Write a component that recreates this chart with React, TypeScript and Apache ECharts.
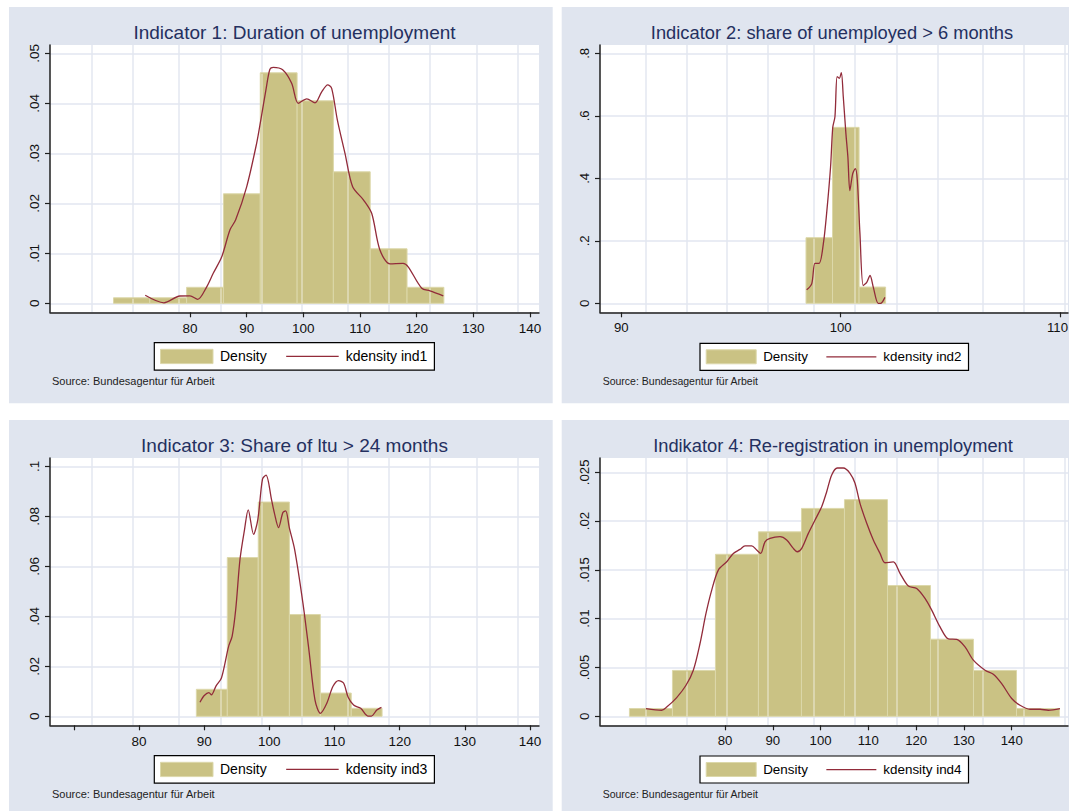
import React, { useEffect, useRef } from 'react';
import * as echarts from 'echarts';

const FONT = '"Liberation Sans", Arial, Helvetica, sans-serif';
const BAR = '#cac284';
const BAR_EDGE = '#dcd8aa';
const CURVE = '#922b3a';
const AXIS = '#1f1f1f';
const GRIDLINE = '#e2e6f0';
const PANEL_BG = '#e0e5ef';
const TITLE_COLOR = '#243060';
const SEAM = '#dfe3ee';
const SOURCE_TEXT = 'Source: Bundesagentur für Arbeit';
const LEGEND_HIST = 'Density';
const LINE_ICON = 'path://M0,0H400V10H0Z';

// ---------- Panel 1 ----------
const TITLE1 = 'Indicator 1: Duration of unemployment';
const EDGES1 = [66.5, 72.9, 79.4, 85.9, 92.4, 98.9, 105.3, 111.8, 118.3, 124.8];
const DENS1 = [0.0011, 0.0011, 0.0032, 0.0219, 0.0461, 0.0405, 0.0263, 0.0109, 0.0032];
const KDX1 = [72.1, 75.4, 78.2, 80.0, 81.35, 82.9, 84.1, 85.6, 87.06, 88.06, 90.0, 91.76, 92.5, 93.4, 94.1, 94.7, 96.35, 97.94, 99.1, 100.6, 102.06, 103.24, 104.3, 105.0, 106.0, 107.35, 108.7, 110.6, 112.06, 113.5, 115.3, 117.6, 118.5, 120.9, 122.35, 124.7];
const KDY1 = [0.0016, 0.0001, 0.00146, 0.0015, 0.0008, 0.0032, 0.006, 0.0093, 0.0147, 0.0167, 0.0233, 0.032, 0.0367, 0.0427, 0.0468, 0.0472, 0.0467, 0.044, 0.040, 0.0409, 0.0401, 0.0423, 0.0437, 0.043, 0.0367, 0.030, 0.0233, 0.0207, 0.018, 0.0107, 0.0079, 0.008, 0.0073, 0.003, 0.0025, 0.0015];
const XTICKS1 = [80, 90, 100, 110, 120, 130, 140];
const XLABELS1 = [80, 90, 100, 110, 120, 130, 140];
const YTICKS1 = [0, 0.01, 0.02, 0.03, 0.04, 0.05];

// ---------- Panel 2 ----------
const TITLE2 = 'Indicator 2: share of unemployed > 6 months';
const EDGES2 = [98.42, 99.63, 100.84, 102.05];
const DENS2 = [0.21, 0.563, 0.052];
const KDX2 = [98.45, 98.68, 98.83, 99.02, 99.21, 99.36, 99.54, 99.64, 99.74, 99.84, 99.94, 100.03, 100.12, 100.24, 100.33, 100.42, 100.55, 100.67, 100.76, 100.88, 101.03, 101.19, 101.34, 101.49, 101.71, 101.82, 102.02];
const KDY2 = [0.043, 0.062, 0.128, 0.128, 0.19, 0.287, 0.436, 0.563, 0.597, 0.725, 0.72, 0.738, 0.661, 0.543, 0.468, 0.361, 0.415, 0.431, 0.394, 0.223, 0.057, 0.067, 0.089, 0.051, 0.0, 0.0, 0.019];
const XTICKS2 = [90, 100, 110];
const XLABELS2 = [90, 100, 110];
const YTICKS2 = [0, 0.2, 0.4, 0.6, 0.8];

// ---------- Panel 3 ----------
const TITLE3 = 'Indicator 3: Share of ltu > 24 months';
const EDGES3 = [88.8, 93.55, 98.3, 103.08, 107.83, 112.57, 117.3];
const DENS3 = [0.0108, 0.0635, 0.0857, 0.0407, 0.0093, 0.0032];
const KDX3 = [89.36, 90.02, 90.73, 91.11, 91.83, 92.65, 93.75, 94.29, 94.84, 95.5, 96.2, 96.76, 97.58, 98.24, 98.95, 99.5, 100.32, 100.76, 101.42, 102.08, 102.51, 103.06, 103.88, 105.15, 106.07, 107.01, 107.84, 108.82, 109.75, 110.62, 111.39, 112.1, 112.93, 114.02, 115.12, 115.66, 116.49, 117.2];
const KDY3 = [0.0056, 0.0083, 0.0095, 0.0086, 0.0122, 0.0153, 0.028, 0.032, 0.0427, 0.0628, 0.0748, 0.0826, 0.0728, 0.0788, 0.0949, 0.0965, 0.0869, 0.0815, 0.0755, 0.0815, 0.0822, 0.0755, 0.0668, 0.0454, 0.0266, 0.0065, 0.0012, 0.0052, 0.0119, 0.0143, 0.0133, 0.0076, 0.0045, 0.0032, 0.0001, 0.0001, 0.0025, 0.0036];
const XTICKS3 = [70, 80, 90, 100, 110, 120, 130, 140];
const XLABELS3 = [80, 90, 100, 110, 120, 130, 140];
const YTICKS3 = [0, 0.02, 0.04, 0.06, 0.08, 0.1];

// ---------- Panel 4 ----------
const TITLE4 = 'Indikator 4: Re-registration in unemployment';
const EDGES4 = [60, 69, 78, 87, 96, 105, 114, 123, 132, 141, 150];
const DENS4 = [0.0008, 0.0047, 0.0166, 0.0189, 0.0213, 0.0222, 0.0134, 0.0079, 0.0047, 0.0008];
const KDX4 = [63.47, 66.75, 67.8, 69.89, 71.84, 73.37, 74.77, 76.02, 77.22, 78.6, 80.36, 81.74, 83.14, 84.19, 85.59, 86.63, 87.47, 88.37, 89.42, 91.51, 92.91, 94.3, 95.13, 96.05, 97.44, 98.84, 100.23, 101.28, 102.33, 103.5, 104.76, 106.16, 107.21, 108.25, 109.66, 111.04, 112.44, 113.49, 115.23, 116.63, 118.37, 120.12, 121.86, 123.26, 125.0, 126.74, 128.49, 130.23, 131.97, 134.42, 136.15, 137.9, 140.0, 141.74, 143.83, 145.93, 147.67, 150.1];
const KDY4 = [0.00079, 0.00062, 0.00095, 0.00192, 0.00318, 0.00472, 0.00746, 0.01054, 0.01293, 0.01498, 0.01583, 0.01669, 0.0171, 0.01747, 0.01747, 0.01703, 0.01669, 0.01788, 0.01823, 0.0184, 0.01806, 0.0172, 0.01686, 0.0172, 0.01874, 0.02011, 0.02147, 0.02301, 0.02473, 0.02544, 0.02544, 0.0249, 0.02387, 0.02182, 0.01977, 0.01806, 0.01669, 0.01573, 0.01583, 0.01464, 0.01334, 0.0131, 0.01208, 0.01088, 0.00916, 0.00793, 0.00787, 0.00711, 0.00575, 0.00472, 0.00431, 0.00335, 0.00182, 0.00113, 0.00072, 0.00072, 0.00062, 0.00079];
const XTICKS4 = [80, 90, 100, 110, 120, 130, 140];
const XLABELS4 = [80, 90, 100, 110, 120, 130, 140];
const YTICKS4 = [0, 0.005, 0.01, 0.015, 0.02, 0.025];

// Rendering seams visible in the reference picture (page x positions)
const SEAM_X = [92, 133, 179, 221, 262, 302, 348, 389, 430, 477, 518, 646, 687, 727, 768, 814, 855, 897, 938, 983, 1024, 1065];

type Panel = {
  title: string; titleX: number; titleY: number; titleSize: number;
  bg: [number, number, number, number];
  grid: { left: number; top: number; width: number; height: number };
  xMin: number; xMax: number; yMin: number; yMax: number;
  xTicks: number[]; xLabels: number[]; yTicks: number[];
  edges: number[]; dens: number[]; kdx: number[]; kdy: number[];
  kdName: string;
  legend: { left: number; top: number; iw: number; ih: number; gap: number; font: number; pad: number[] };
  labelSize: number;
  edgeLabel?: number;
  source: { x: number; y: number; size: number };
};

const PANELS: Panel[] = [
  {
    title: TITLE1, titleX: 294.5, titleY: 32.7, titleSize: 19,
    bg: [9, 7, 543.7, 396.3],
    grid: { left: 50, top: 45, width: 489, height: 267.3 },
    xMin: 55.294, xMax: 141.588, yMin: -0.0018, yMax: 0.05166,
    xTicks: XTICKS1, xLabels: XLABELS1, yTicks: YTICKS1,
    edges: EDGES1, dens: DENS1, kdx: KDX1, kdy: KDY1, kdName: 'kdensity ind1',
    legend: { left: 154.3, top: 342.7, iw: 52.5, ih: 14.3, gap: 19.5, font: 14, pad: [6.1, 7, 6.1, 5.7] },
    labelSize: 13.5,
    source: { x: 52, y: 380.5, size: 11 },
  },
  {
    title: TITLE2, titleX: 832, titleY: 32.7, titleSize: 18.3,
    bg: [561.7, 7, 520, 396.3],
    grid: { left: 600, top: 45, width: 468, height: 267.3 },
    xMin: 89.029, xMax: 110.365, yMin: -0.0288, yMax: 0.82656,
    xTicks: XTICKS2, xLabels: XLABELS2, yTicks: YTICKS2,
    edges: EDGES2, dens: DENS2, kdx: KDX2, kdy: KDY2, kdName: 'kdensity ind2',
    legend: { left: 700, top: 343.3, iw: 50, ih: 14, gap: 18.5, font: 13.4, pad: [6, 7, 6, 5.7] },
    labelSize: 13.2,
    edgeLabel: 110,
    source: { x: 602.7, y: 380.5, size: 10.5 },
  },
  {
    title: TITLE3, titleX: 294.5, titleY: 445.7, titleSize: 19,
    bg: [9, 420, 543.7, 391],
    grid: { left: 50, top: 458, width: 489, height: 267.3 },
    xMin: 66.343, xMax: 141.381, yMin: -0.0036, yMax: 0.10332,
    xTicks: XTICKS3, xLabels: XLABELS3, yTicks: YTICKS3,
    edges: EDGES3, dens: DENS3, kdx: KDX3, kdy: KDY3, kdName: 'kdensity ind3',
    legend: { left: 154.3, top: 755.7, iw: 52.5, ih: 14.3, gap: 19.5, font: 14, pad: [6.1, 7, 6.1, 5.7] },
    labelSize: 13.5,
    source: { x: 52, y: 793.5, size: 11 },
  },
  {
    title: TITLE4, titleX: 833, titleY: 445.7, titleSize: 18.3,
    bg: [561.7, 420, 520, 391],
    grid: { left: 600, top: 458, width: 468, height: 267.3 },
    xMin: 53.84, xMax: 151.78, yMin: -0.000922, yMax: 0.026465,
    xTicks: XTICKS4, xLabels: XLABELS4, yTicks: YTICKS4,
    edges: EDGES4, dens: DENS4, kdx: KDX4, kdy: KDY4, kdName: 'kdensity ind4',
    legend: { left: 700, top: 756, iw: 50, ih: 14, gap: 18.5, font: 13.4, pad: [6, 7, 6, 5.7] },
    labelSize: 13.2,
    source: { x: 602.7, y: 793.5, size: 10.5 },
  },
];

const fmtY = (v: number) => (v === 0 ? '0' : String(v).replace(/^0\./, '.'));

function renderHist(_params: any, api: any) {
  const x0 = api.value(0);
  const x1 = api.value(1);
  const h = api.value(2);
  const p0 = api.coord([x0, h]);
  const p1 = api.coord([x1, 0]);
  const children: any[] = [
    {
      type: 'rect',
      shape: { x: p0[0], y: p0[1], width: p1[0] - p0[0], height: p1[1] - p0[1] },
      style: { fill: BAR, stroke: BAR_EDGE, lineWidth: 1 },
    },
  ];
  SEAM_X.forEach((sx) => {
    if (sx > p0[0] + 1.5 && sx < p1[0] - 1.5) {
      children.push({
        type: 'line',
        shape: { x1: sx, y1: p0[1] + 1, x2: sx, y2: p1[1] },
        style: { stroke: 'rgba(255,255,255,0.7)', lineWidth: 1 },
      });
    }
  });
  return { type: 'group', children };
}

function buildOption() {
  const graphics: any[] = [];
  PANELS.forEach((p) => {
    graphics.push({
      type: 'rect', z: -10, z2: 0, silent: true,
      shape: { x: p.bg[0], y: p.bg[1], width: p.bg[2], height: p.bg[3] },
      style: { fill: PANEL_BG },
    });
    graphics.push({
      type: 'rect', z: -10, z2: 1, silent: true,
      shape: { x: p.grid.left, y: p.grid.top, width: p.grid.width, height: p.grid.height },
      style: { fill: '#ffffff' },
    });
    SEAM_X.forEach((sx) => {
      if (sx > p.grid.left + 2 && sx < p.grid.left + p.grid.width - 1) {
        graphics.push({
          type: 'line', z: -10, z2: 2, silent: true,
          shape: { x1: sx, y1: p.grid.top, x2: sx, y2: p.grid.top + p.grid.height },
          style: { stroke: SEAM, lineWidth: 1.3 },
        });
      }
    });
    graphics.push({
      type: 'text', silent: true,
      style: {
        text: SOURCE_TEXT, x: p.source.x, y: p.source.y,
        fill: '#222222', fontSize: p.source.size, fontFamily: FONT,
        verticalAlign: 'middle', align: 'left',
      },
    });
  });

  const title = PANELS.map((p) => ({
    text: p.title,
    left: p.titleX,
    top: p.titleY,
    textAlign: 'center',
    textVerticalAlign: 'middle',
    padding: 0,
    textStyle: { fontSize: p.titleSize, fontWeight: 'normal', color: TITLE_COLOR, fontFamily: FONT },
  }));

  const grid = PANELS.map((p) => ({
    left: p.grid.left, top: p.grid.top, width: p.grid.width, height: p.grid.height,
    show: false, containLabel: false, outerBoundsMode: 'none',
  }));

  const xAxis = PANELS.map((p, i) => ({
    type: 'value', gridIndex: i, min: p.xMin, max: p.xMax,
    axisLine: { show: true, onZero: false, lineStyle: { color: AXIS, width: 1.5 } },
    axisTick: { show: true, length: 5, inside: false, customValues: p.xTicks, lineStyle: { color: AXIS, width: 1.2 } },
    axisLabel: {
      show: true, customValues: p.xLabels, margin: 9, fontSize: p.labelSize, color: '#111111', fontFamily: FONT,
      formatter: (v: number) => (p.edgeLabel !== undefined && v === p.edgeLabel ? `{e|${v}}` : String(v)),
      rich: { e: { padding: [0, 5, 0, 0], fontSize: p.labelSize, color: '#111111', fontFamily: FONT } },
      hideOverlap: false,
    },
    splitLine: { show: false },
  }));

  const yAxis = PANELS.map((p, i) => ({
    type: 'value', gridIndex: i, min: p.yMin, max: p.yMax,
    axisLine: { show: true, onZero: false, lineStyle: { color: AXIS, width: 1.5 } },
    axisTick: { show: true, length: 5, inside: false, customValues: p.yTicks, lineStyle: { color: AXIS, width: 1.2 } },
    axisLabel: {
      show: true, customValues: p.yTicks, rotate: 90, margin: 9, fontSize: p.labelSize, color: '#111111', fontFamily: FONT,
      formatter: fmtY, hideOverlap: false,
    },
    splitLine: { show: true, lineStyle: { color: GRIDLINE, width: 1.6 } },
  }));

  const series: any[] = [];
  PANELS.forEach((p, i) => {
    series.push({
      type: 'custom', name: LEGEND_HIST, xAxisIndex: i, yAxisIndex: i,
      renderItem: renderHist,
      encode: { x: [0, 1], y: 2 },
      data: p.dens.map((d, k) => [p.edges[k], p.edges[k + 1], d]),
      itemStyle: { color: BAR },
      z: 2, silent: true,
    });
    series.push({
      type: 'line', name: p.kdName, xAxisIndex: i, yAxisIndex: i,
      data: p.kdx.map((x, k) => [x, p.kdy[k]]),
      symbol: 'none', showSymbol: false, smooth: 0.3,
      lineStyle: { color: CURVE, width: 1.3 },
      itemStyle: { color: CURVE },
      z: 3, silent: true,
    });
  });

  const legend = PANELS.map((p) => ({
    show: true, orient: 'horizontal',
    left: p.legend.left, top: p.legend.top,
    padding: p.legend.pad,
    itemWidth: p.legend.iw, itemHeight: p.legend.ih, itemGap: p.legend.gap,
    backgroundColor: '#ffffff', borderColor: '#000000', borderWidth: 1.2, borderRadius: 0,
    selectedMode: false, symbolKeepAspect: true,
    textStyle: { fontSize: p.legend.font, color: '#000000', fontFamily: FONT, padding: [0, 0, 0, 2] },
    data: [
      { name: LEGEND_HIST, icon: 'rect', itemStyle: { color: BAR, borderColor: BAR_EDGE, borderWidth: 1 } },
      { name: p.kdName, icon: LINE_ICON, itemStyle: { color: CURVE, borderWidth: 0 } },
    ],
  }));

  return {
    animation: false,
    backgroundColor: '#ffffff',
    textStyle: { fontFamily: FONT },
    title, grid, xAxis, yAxis, series, legend,
    graphic: { elements: graphics },
  };
}

export default function App() {
  const ref = useRef<HTMLDivElement>(null);
  useEffect(() => {
    if (!ref.current) return;
    const chart = echarts.init(ref.current, null, { renderer: 'svg' });
    chart.setOption(buildOption() as any);
    return () => chart.dispose();
  }, []);
  return (
    <div
      ref={ref}
      style={{ position: 'absolute', left: 0, top: 0, width: 1069, height: 812 }}
    />
  );
}
